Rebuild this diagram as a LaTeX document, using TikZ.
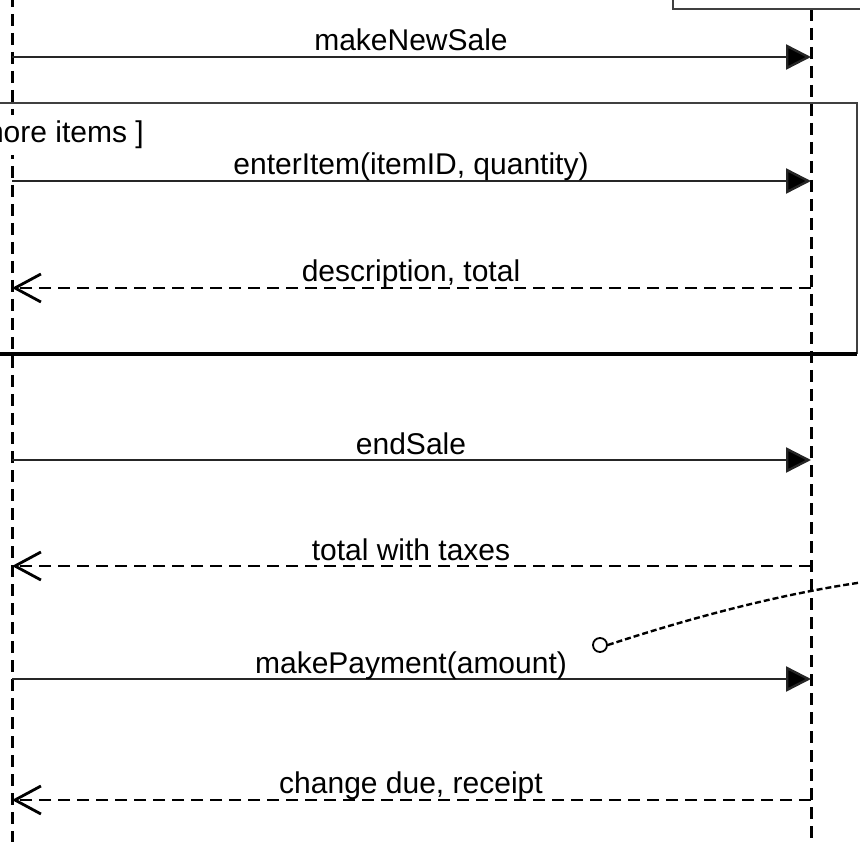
\documentclass[tikz,border=0pt]{standalone}
\usepackage{fontspec}
\setmainfont{Liberation Sans}
\usetikzlibrary{arrows.meta}
\begin{document}
\begin{tikzpicture}[x=1pt, y=-1pt, font=\fontsize{30}{34}\selectfont]
      \tikzstyle{lifeline}=[line width=3pt, dash pattern=on 12pt off 7pt]
      \tikzstyle{frame}=[line width=2.2pt, black!75]
      \tikzstyle{call}=[line width=2.4pt, black!85, -{Triangle[length=25pt,width=25pt,fill=black]}]
      \tikzstyle{reply}=[line width=2.8pt, dash pattern=on 12pt off 7pt, -{Straight Barb[length=26pt,width=28pt]}]
      \tikzstyle{lbl}=[anchor=base, inner sep=0pt]
      \useasboundingbox (0,0) rectangle (860,842);
      \clip (0,0) rectangle (860,842);
      % lifelines
      \coordinate (cTop) at (12,-5);
      \coordinate (cBot) at (12,850);
      \coordinate (rTop) at (811,9);
      \coordinate (rBot) at (811,850);
      \draw[lifeline] (cTop) -- (cBot);
      \draw[lifeline] (rTop) -- (rBot);
      % object box and loop frame
      \draw[frame] (673,-5) -- (673,9) -- (865,9);
      \draw[frame] (-5,103) -- (857,103) -- (857,354);
      \draw[line width=3.4pt] (-5,354) -- (857,354);
      \node[anchor=base east, fill=white, inner xsep=2pt, inner ysep=6pt] (guard) at (146,143) {[ more items ]};
      % message ends
      \coordinate (c1) at (12,57);  \coordinate (r1) at (811,57);
      \coordinate (c2) at (12,181); \coordinate (r2) at (811,181);
      \coordinate (c3) at (12,288); \coordinate (r3) at (811,288);
      \coordinate (c4) at (12,460); \coordinate (r4) at (811,460);
      \coordinate (c5) at (12,566); \coordinate (r5) at (811,566);
      \coordinate (c6) at (12,679); \coordinate (r6) at (811,679);
      \coordinate (c7) at (12,800); \coordinate (r7) at (811,800);
      \draw[call] (c1) -- (r1);
      \draw[call] (c2) -- (r2);
      \draw[reply] (r3) -- (c3);
      \draw[call] (c4) -- (r4);
      \draw[reply] (r5) -- (c5);
      \draw[call] (c6) -- (r6);
      \draw[reply] (r7) -- (c7);
      \node[lbl] (makeNewSale) at (411,51) {makeNewSale};
      \node[lbl] (enterItem) at (411,175) {enterItem(itemID, quantity)};
      \node[lbl] (descTotal) at (411,282) {description, total};
      \node[lbl] (endSale) at (411,454) {endSale};
      \node[lbl] (totalTaxes) at (411,560) {total with taxes};
      \node[lbl] (makePayment) at (411,673) {makePayment(amount)};
      \node[lbl] (changeDue) at (411,793) {change due, receipt};
      % note link
      \node[circle, draw, line width=1.8pt, minimum size=14pt, inner sep=0pt] (noteEnd) at (600,645) {};
      \coordinate (noteOut) at (864,582);
      \draw[line width=2.4pt, dash pattern=on 6pt off 3pt] (noteEnd.east) .. controls (690,618) and (780,594) .. (noteOut);
    \end{tikzpicture}
\end{document}
